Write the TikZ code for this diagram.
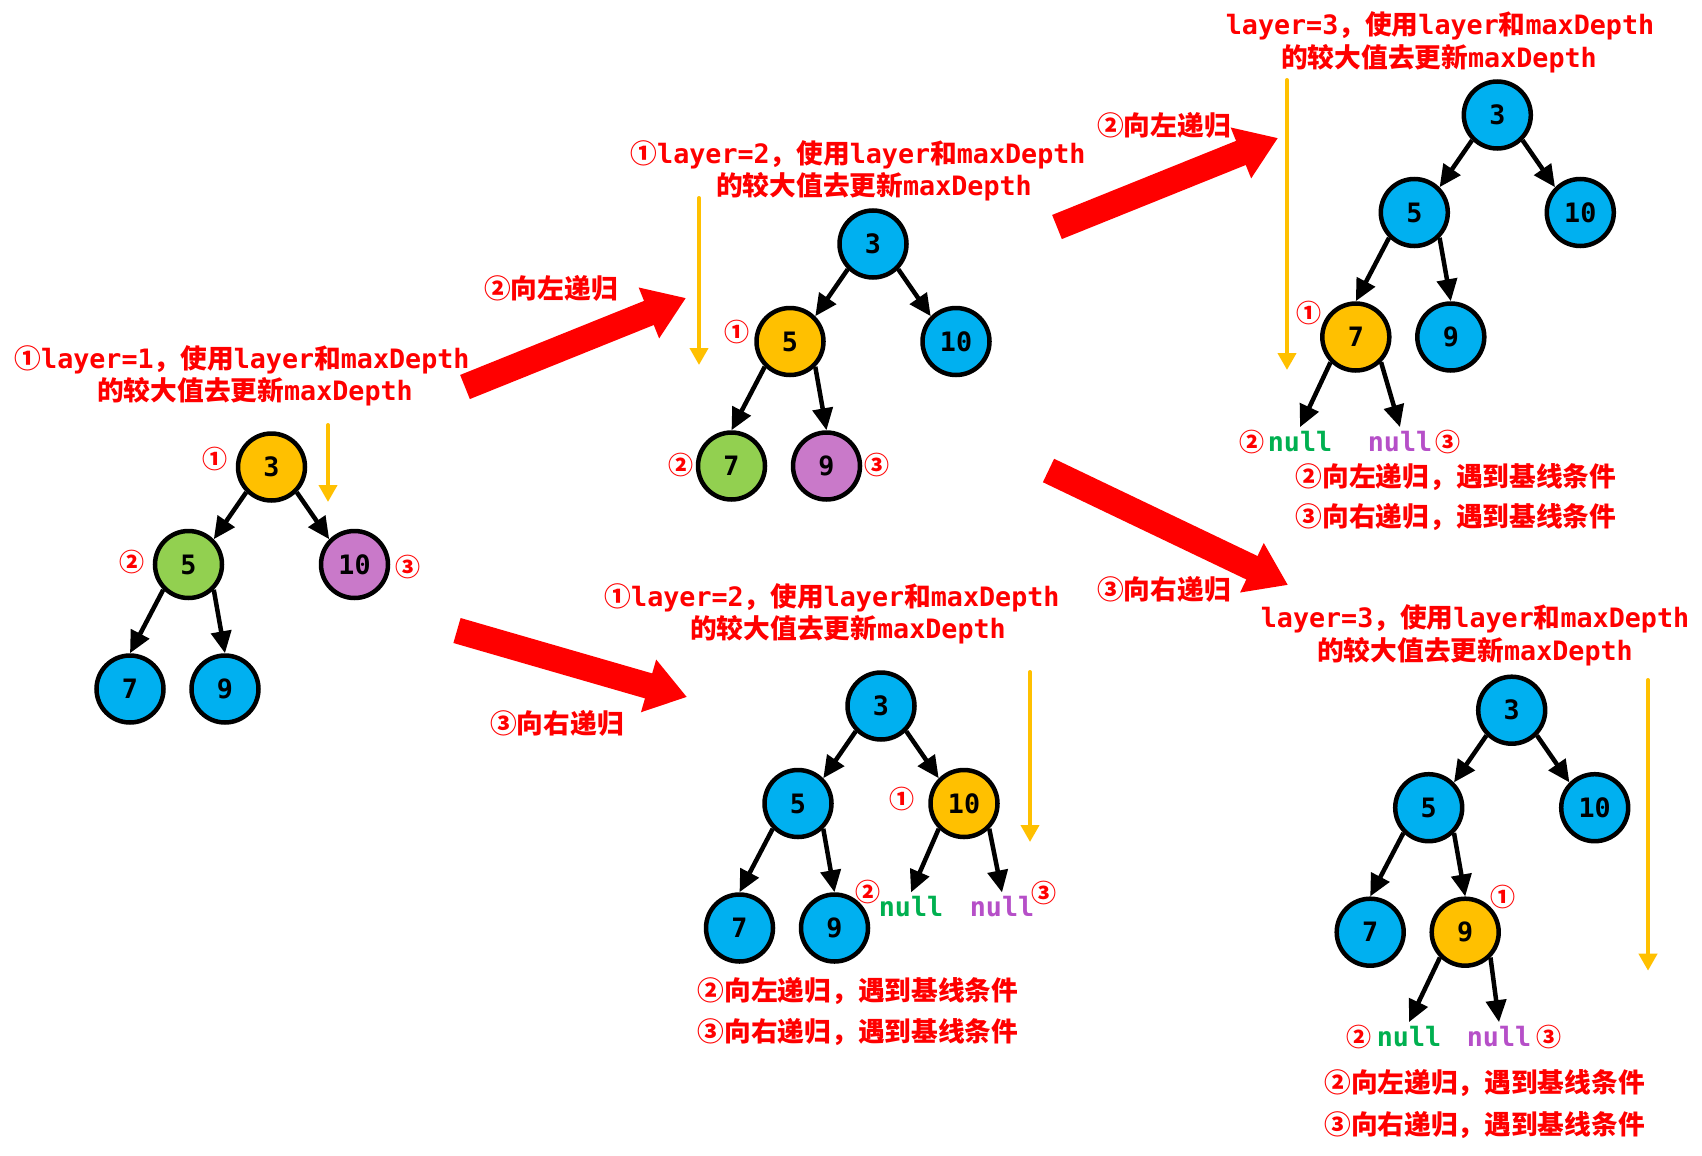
\documentclass[tikz,border=0pt]{standalone}
\usepackage{fontspec}
\setmainfont{DejaVu Sans Mono}
\newfontfamily\cjk{Noto Sans CJK SC}
\usetikzlibrary{arrows.meta, positioning}
\definecolor{nodeblue}{HTML}{00B0F0}
\definecolor{nodeyellow}{HTML}{FFC000}
\definecolor{nodegreen}{HTML}{92D050}
\definecolor{nodepurple}{HTML}{C979C9}
\definecolor{nullgreen}{HTML}{00B050}
\definecolor{nullpurple}{HTML}{B64FC8}
\newcommand{\zh}[1]{{\cjk #1}}
\newcommand{\bigfont}{\fontsize{26.7}{30}\selectfont\bfseries}

\begin{document}
\begin{tikzpicture}[
        x=1pt, y=-1pt,
        treenode/.style={circle, draw=black, line width=4.5pt, minimum size=67pt, inner sep=0pt, font=\bigfont},
        link/.style={line width=4.5pt, -{Triangle[length=22pt, width=20pt]}},
        nullnode/.style={font=\bigfont, inner sep=4pt},
        stepnum/.style={text=red, font=\fontsize{25}{25}\selectfont\bfseries, inner sep=0pt},
        rednote/.style={text=red, font=\bigfont, inner sep=0pt},
        descend/.style={draw=nodeyellow, line width=4pt, line cap=round, -{Triangle[length=17pt, width=18pt]}},
        bigarrow/.style={draw=red, line width=26pt, -{Triangle[length=40pt, width=52pt]}}
    ]
    \fill[white] (0,0) rectangle (1702,1156);
    \useasboundingbox (0,0) rectangle (1702,1156);

    % the five snapshots of the tree
    \foreach \T/\X/\Y/\Fa/\Fb/\Fc/\Fd/\Fe in {
            a/271.5/467/nodeyellow/nodegreen/nodepurple/nodeblue/nodeblue,
            b/873/244/nodeblue/nodeyellow/nodeblue/nodegreen/nodepurple,
            c/1497.3/115/nodeblue/nodeblue/nodeblue/nodeyellow/nodeblue,
            d/881/706/nodeblue/nodeblue/nodeyellow/nodeblue/nodeblue,
            e/1511.7/710.2/nodeblue/nodeblue/nodeblue/nodeblue/nodeyellow}
    {
        \begin{scope}[shift={(\X,\Y)}]
            \node[treenode, fill=\Fa] (\T3) at (0,0) {3};
            \node[treenode, fill=\Fb] (\T5) at (-83,97.5) {5};
            \node[treenode, fill=\Fc] (\T10) at (83,97.5) {10};
            \node[treenode, fill=\Fd] (\T7) at (-141.5,222) {7};
            \node[treenode, fill=\Fe] (\T9) at (-46.5,222) {9};
        \end{scope}
    }

    \foreach \T in {a,b,c,d,e} {
        \draw[link] (\T3.south west) -- (\T5.north east);
        \draw[link] (\T3.south east) -- (\T10.north west);
        \draw[link] (\T5.south west) -- (\T7.north);
        \draw[link] (\T5.south east) -- (\T9.north);
    }

    % null children
    \foreach \T/\P/\XL/\XR/\Y in {c/c7/1300/1400/441.7, d/d10/911/1002/907, e/e9/1409/1499/1036.7} {
        \node[nullnode, text=nullgreen] (\T nl) at (\XL,\Y) {null};
        \node[nullnode, text=nullpurple] (\T nr) at (\XR,\Y) {null};
        \draw[link] (\P.south west) -- (\T nl.north);
        \draw[link] (\P.south east) -- (\T nr.north);
    }

    % order of visits
    \foreach \Name/\X/\Y/\Num in {
            a1/215/459/①, a2/132/562/②, a3/408/567/③,
            b1/737/332/①, b2/681/465/②, b3/877/465/③,
            c1/1309/313/①, c2/1252/441.7/②, c3/1448/441.7/③,
            d1/902/799/①, d2/868/892/②, d3/1044/893/③,
            e1/1503/897/①, e2/1359/1036.7/②, e3/1549/1036.7/③}
        \node[stepnum] (n\Name) at (\X,\Y) {\zh{\Num}};

    % notes
    \node[rednote] (ta1) at (242,360) {\zh{①}layer=1\zh{，使用}layer\zh{和}maxDepth};
    \node[rednote] (ta2) at (255,392) {\zh{的较大值去更新}maxDepth};
    \node[rednote] (tb1) at (858,155) {\zh{①}layer=2\zh{，使用}layer\zh{和}maxDepth};
    \node[rednote] (tb2) at (874,187) {\zh{的较大值去更新}maxDepth};
    \node[rednote] (tc1) at (1440,26) {layer=3\zh{，使用}layer\zh{和}maxDepth};
    \node[rednote] (tc2) at (1439,59) {\zh{的较大值去更新}maxDepth};
    \node[rednote] (td1) at (832,598) {\zh{①}layer=2\zh{，使用}layer\zh{和}maxDepth};
    \node[rednote] (td2) at (848,630) {\zh{的较大值去更新}maxDepth};
    \node[rednote] (te1) at (1475,619.3) {layer=3\zh{，使用}layer\zh{和}maxDepth};
    \node[rednote] (te2) at (1475,651.7) {\zh{的较大值去更新}maxDepth};

    \node[rednote] (bc1) at (1456,476.7) {\zh{②向左递归，遇到基线条件}};
    \node[rednote] (bc2) at (1456,516.7) {\zh{③向右递归，遇到基线条件}};
    \node[rednote] (bd1) at (858,991) {\zh{②向左递归，遇到基线条件}};
    \node[rednote] (bd2) at (858,1032) {\zh{③向右递归，遇到基线条件}};
    \node[rednote] (be1) at (1484.5,1083.3) {\zh{②向左递归，遇到基线条件}};
    \node[rednote] (be2) at (1484.5,1125) {\zh{③向右递归，遇到基线条件}};

    % depth arrows
    \foreach \Name/\X/\Ya/\Yb in {a/328/425/502, b/699/198/365, c/1287/80/370, d/1030/672/842, e/1648/680/970.7} {
        \coordinate (\Name top) at (\X,\Ya);
        \coordinate (\Name bot) at (\X,\Yb);
        \draw[descend] (\Name top) -- (\Name bot);
    }

    % recursion steps
    \coordinate (ra) at (465,387);   \coordinate (rb) at (686,298);
    \coordinate (rc) at (457,630.5); \coordinate (rd) at (687,697);
    \coordinate (re) at (1057,227);  \coordinate (rf) at (1278,138);
    \coordinate (rg) at (1048.5,470.5); \coordinate (rh) at (1288,585);
    \foreach \From/\To in {ra/rb, rc/rd, re/rf, rg/rh}
        \draw[bigarrow] (\From) -- (\To);

    \node[rednote] (la) at (551,288) {\zh{②向左递归}};
    \node[rednote] (lb) at (557,723) {\zh{③向右递归}};
    \node[rednote] (lc) at (1164,125) {\zh{②向左递归}};
    \node[rednote] (ld) at (1164,589) {\zh{③向右递归}};
\end{tikzpicture}
\end{document}
